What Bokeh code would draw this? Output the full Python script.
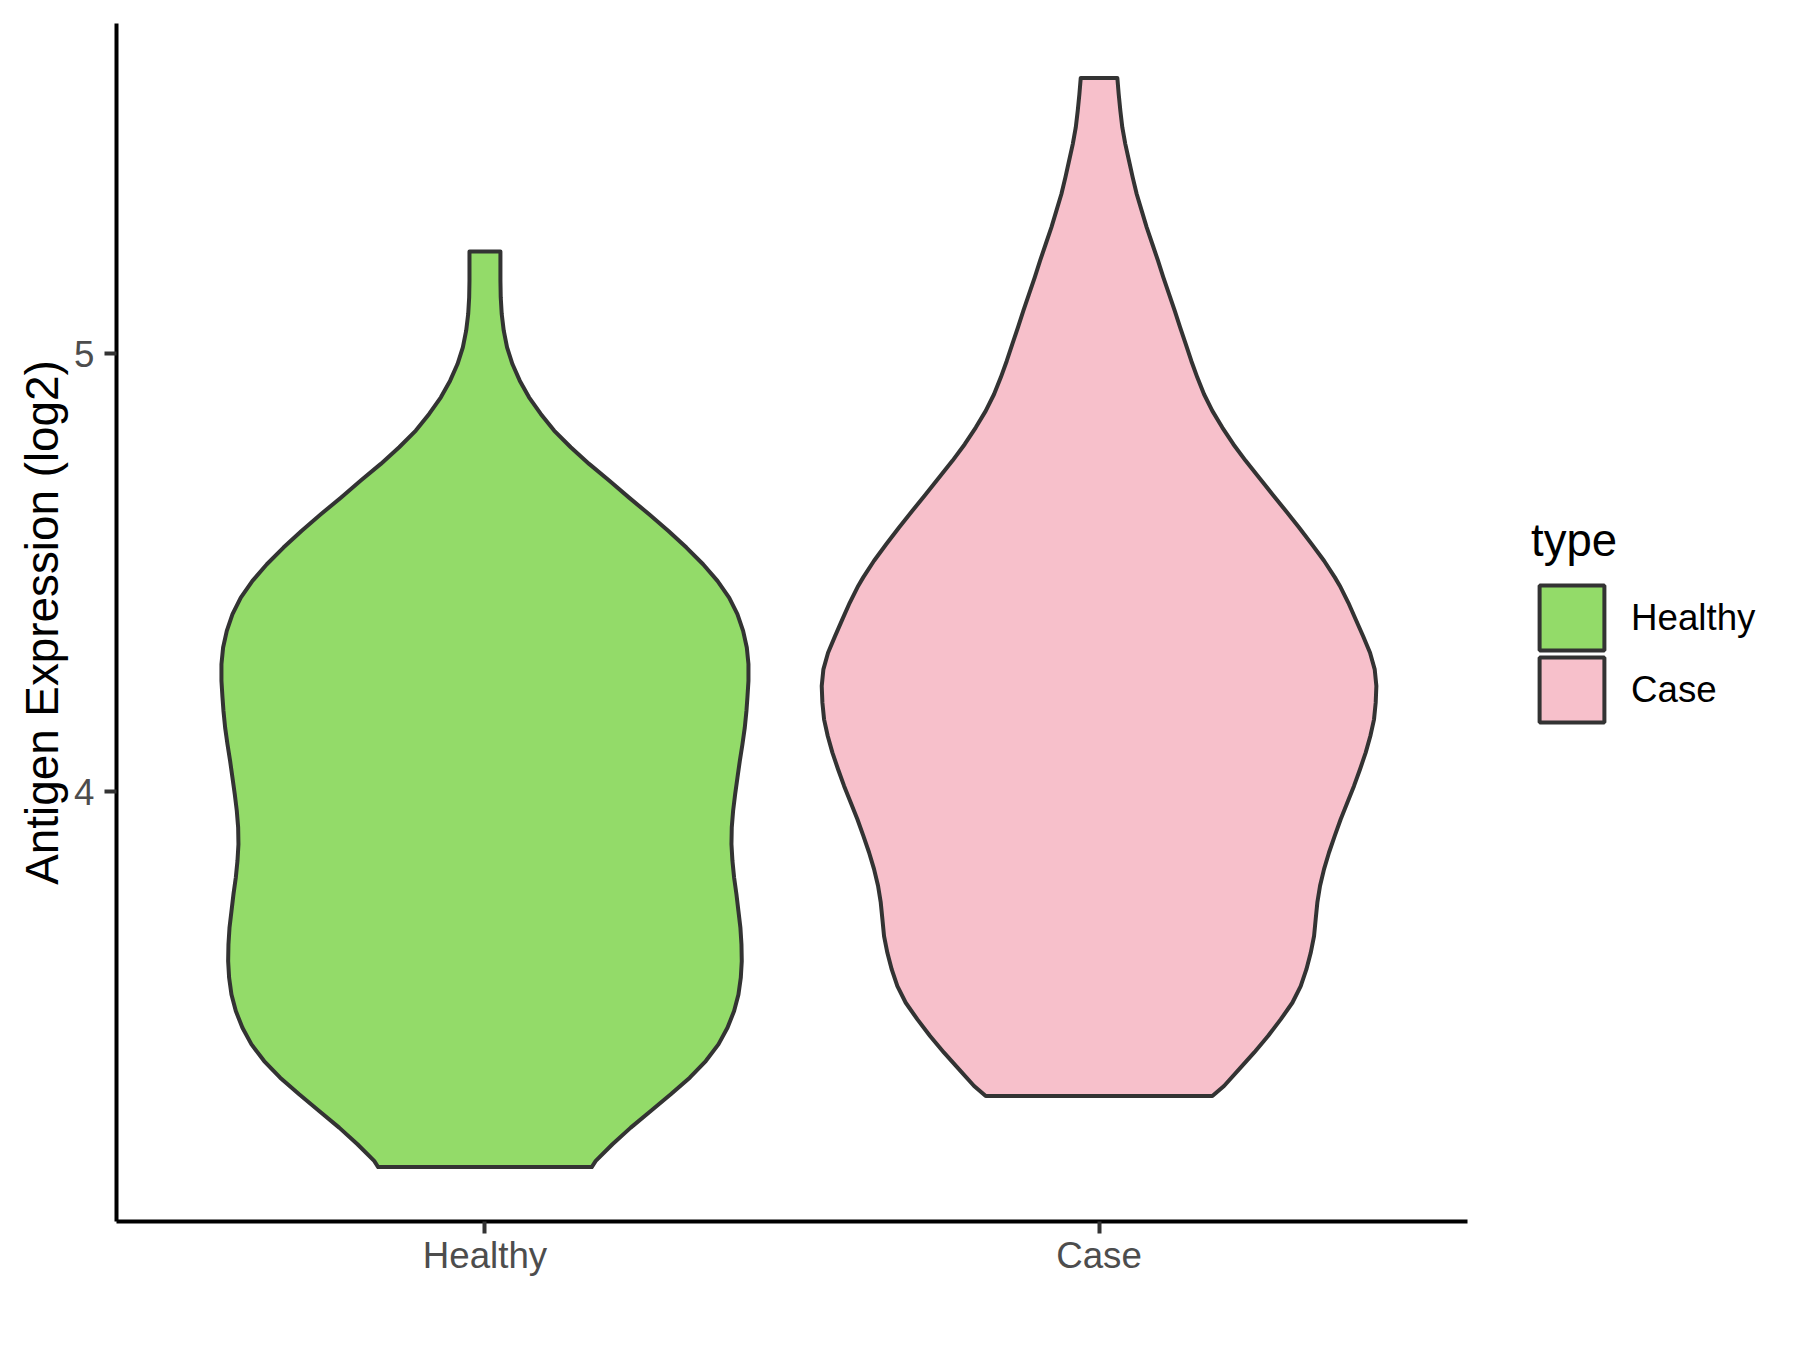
from bokeh.plotting import figure
from bokeh.layouts import row
from bokeh.models import Range1d, FixedTicker, Legend, LegendItem
from bokeh.embed import file_html
from bokeh.resources import INLINE

# ---- data ----
categories = ["Healthy", "Case"]
fill_colors = ["#93DB69", "#F7C0CB"]

# violin outline: expression value (log2) and half-width (in category units)
healthy_y = [5.233, 5.166, 5.128, 5.090, 5.052, 5.014, 4.976, 4.938, 4.900, 4.862,
             4.824, 4.786, 4.748, 4.710, 4.671, 4.633, 4.595, 4.557, 4.519, 4.481,
             4.443, 4.405, 4.367, 4.329, 4.291, 4.253, 4.215, 4.184, 4.146, 4.108,
             4.070, 4.032, 3.994, 3.956, 3.918, 3.880, 3.842, 3.804, 3.766, 3.727,
             3.689, 3.651, 3.613, 3.575, 3.537, 3.499, 3.461, 3.423, 3.385, 3.347,
             3.309, 3.271, 3.233, 3.195, 3.157, 3.143]
healthy_halfwidth = [0.0252, 0.0252, 0.0257, 0.0273, 0.0306, 0.0360, 0.0447, 0.0567, 0.0718, 0.0909,
                     0.1126, 0.1397, 0.1696, 0.2022, 0.2347, 0.2673, 0.2988, 0.3281, 0.3552, 0.3786,
                     0.3976, 0.4111, 0.4204, 0.4264, 0.4291, 0.4291, 0.4274, 0.4258, 0.4231, 0.4193,
                     0.4150, 0.4112, 0.4074, 0.4041, 0.4019, 0.4014, 0.4030, 0.4057, 0.4095, 0.4128,
                     0.4160, 0.4177, 0.4182, 0.4166, 0.4128, 0.4057, 0.3949, 0.3802, 0.3596, 0.3335,
                     0.3026, 0.2700, 0.2374, 0.2076, 0.1804, 0.1739]

case_y = [5.629, 5.592, 5.554, 5.516, 5.478, 5.440, 5.402, 5.364, 5.326, 5.288,
          5.250, 5.212, 5.174, 5.136, 5.098, 5.060, 5.022, 4.983, 4.945, 4.907,
          4.869, 4.831, 4.793, 4.755, 4.717, 4.679, 4.641, 4.603, 4.565, 4.527,
          4.489, 4.470, 4.431, 4.393, 4.355, 4.317, 4.279, 4.241, 4.203, 4.165,
          4.127, 4.089, 4.051, 4.013, 3.975, 3.937, 3.899, 3.861, 3.823, 3.785,
          3.747, 3.709, 3.670, 3.632, 3.594, 3.556, 3.518, 3.480, 3.442, 3.404,
          3.366, 3.328, 3.305]
case_halfwidth = [0.0298, 0.0320, 0.0347, 0.0379, 0.0428, 0.0488, 0.0548, 0.0613, 0.0694, 0.0776,
                  0.0868, 0.0960, 0.1047, 0.1139, 0.1232, 0.1319, 0.1411, 0.1503, 0.1601, 0.1710,
                  0.1845, 0.2008, 0.2187, 0.2388, 0.2605, 0.2822, 0.3040, 0.3257, 0.3463, 0.3664,
                  0.3840, 0.3920, 0.4060, 0.4180, 0.4299, 0.4413, 0.4489, 0.4516, 0.4505, 0.4478,
                  0.4418, 0.4342, 0.4250, 0.4152, 0.4044, 0.3935, 0.3838, 0.3745, 0.3664, 0.3599,
                  0.3555, 0.3528, 0.3501, 0.3447, 0.3376, 0.3284, 0.3148, 0.2958, 0.2752, 0.2524,
                  0.2279, 0.2035, 0.1845]

y_ticks = [4, 5]
y_label = "Antigen Expression (log2)"
legend_title = "type"

series = [(healthy_y, healthy_halfwidth), (case_y, case_halfwidth)]

# ---- ranges (ggplot-like 5% expansion on y, 0.6 on discrete x) ----
all_y = healthy_y + case_y
lo, hi = min(all_y), max(all_y)
pad = 0.05 * (hi - lo)

FONT = "Liberation Sans"
OUTLINE = "#333333"
H = 1342


def violin_outline(pos, ys, hws):
    xs = [pos - w for w in hws] + [pos + w for w in reversed(hws)]
    yy = list(ys) + list(reversed(ys))
    return xs, yy


p = figure(width=1472, height=H, output_backend="svg", toolbar_location=None,
           x_range=Range1d(0.4, len(categories) + 0.6),
           y_range=Range1d(lo - pad, hi + pad),
           min_border_left=116, min_border_right=5,
           min_border_top=23, min_border_bottom=121)

p.outline_line_color = None
p.xgrid.visible = False
p.ygrid.visible = False
p.background_fill_color = "white"
p.border_fill_color = "white"

for i, ((ys, hws), col) in enumerate(zip(series, fill_colors)):
    xs, yy = violin_outline(i + 1, ys, hws)
    p.patch(xs, yy, fill_color=col, line_color=OUTLINE, line_width=4,
            line_join="round")

# axes
for ax in (p.xaxis[0], p.yaxis[0]):
    ax.axis_line_color = "black"
    ax.axis_line_width = 4
    ax.major_tick_line_color = OUTLINE
    ax.major_tick_line_width = 4
    ax.major_tick_out = 12
    ax.major_tick_in = 0
    ax.minor_tick_line_color = None
    ax.major_label_text_font = FONT
    ax.major_label_text_font_size = "36.7px"
    ax.major_label_text_color = "#4D4D4D"

p.xaxis.major_label_standoff = 1
p.yaxis.major_label_standoff = 10
p.xaxis.ticker = FixedTicker(ticks=list(range(1, len(categories) + 1)))
p.xaxis.major_label_overrides = {i + 1: c for i, c in enumerate(categories)}
p.yaxis.ticker = FixedTicker(ticks=y_ticks)
p.yaxis.axis_label = y_label
p.yaxis.axis_label_text_font = FONT
p.yaxis.axis_label_text_font_size = "45.8px"
p.yaxis.axis_label_text_font_style = "normal"
p.yaxis.axis_label_text_color = "black"
p.yaxis.axis_label_standoff = 3

# ---- legend panel (separate figure to the right; its frame is aligned with p's) ----
lp = figure(width=1792 - 1472, height=H, output_backend="svg", toolbar_location=None,
            x_range=Range1d(10, 11), y_range=Range1d(10, 11),
            min_border_left=0, min_border_right=0, min_border_top=0, min_border_bottom=0)
lp.axis.visible = False
lp.grid.visible = False
lp.outline_line_color = None
lp.background_fill_color = "white"
lp.border_fill_color = "white"

# same violins, kept outside this panel's view: they only supply the legend keys
key_renderers = []
for i, ((ys, hws), col) in enumerate(zip(series, fill_colors)):
    xs, yy = violin_outline(i + 1, ys, hws)
    key_renderers.append(lp.patch(xs, yy, fill_color=col, line_color=OUTLINE, line_width=4))

common = dict(margin=0, padding=0,
              label_text_font=FONT, label_text_font_size="36.7px",
              label_text_color="black",
              glyph_width=81, glyph_height=81, label_height=81,
              label_standoff=19, spacing=0,
              background_fill_alpha=0, border_line_alpha=0,
              title_text_font=FONT, title_text_font_size="45.5px",
              title_text_font_style="normal", title_text_color="black",
              title_standoff=10)

legend_top = Legend(items=[LegendItem(label=categories[0], renderers=[key_renderers[0]])],
                    title=legend_title, location=(59, 563), **common)
legend_bottom = Legend(items=[LegendItem(label=categories[1], renderers=[key_renderers[1]])],
                       location=(59, 491), **common)
lp.add_layout(legend_top)
lp.add_layout(legend_bottom)

layout = row(p, lp)
open("out.html", "w").write(file_html(layout, INLINE))
